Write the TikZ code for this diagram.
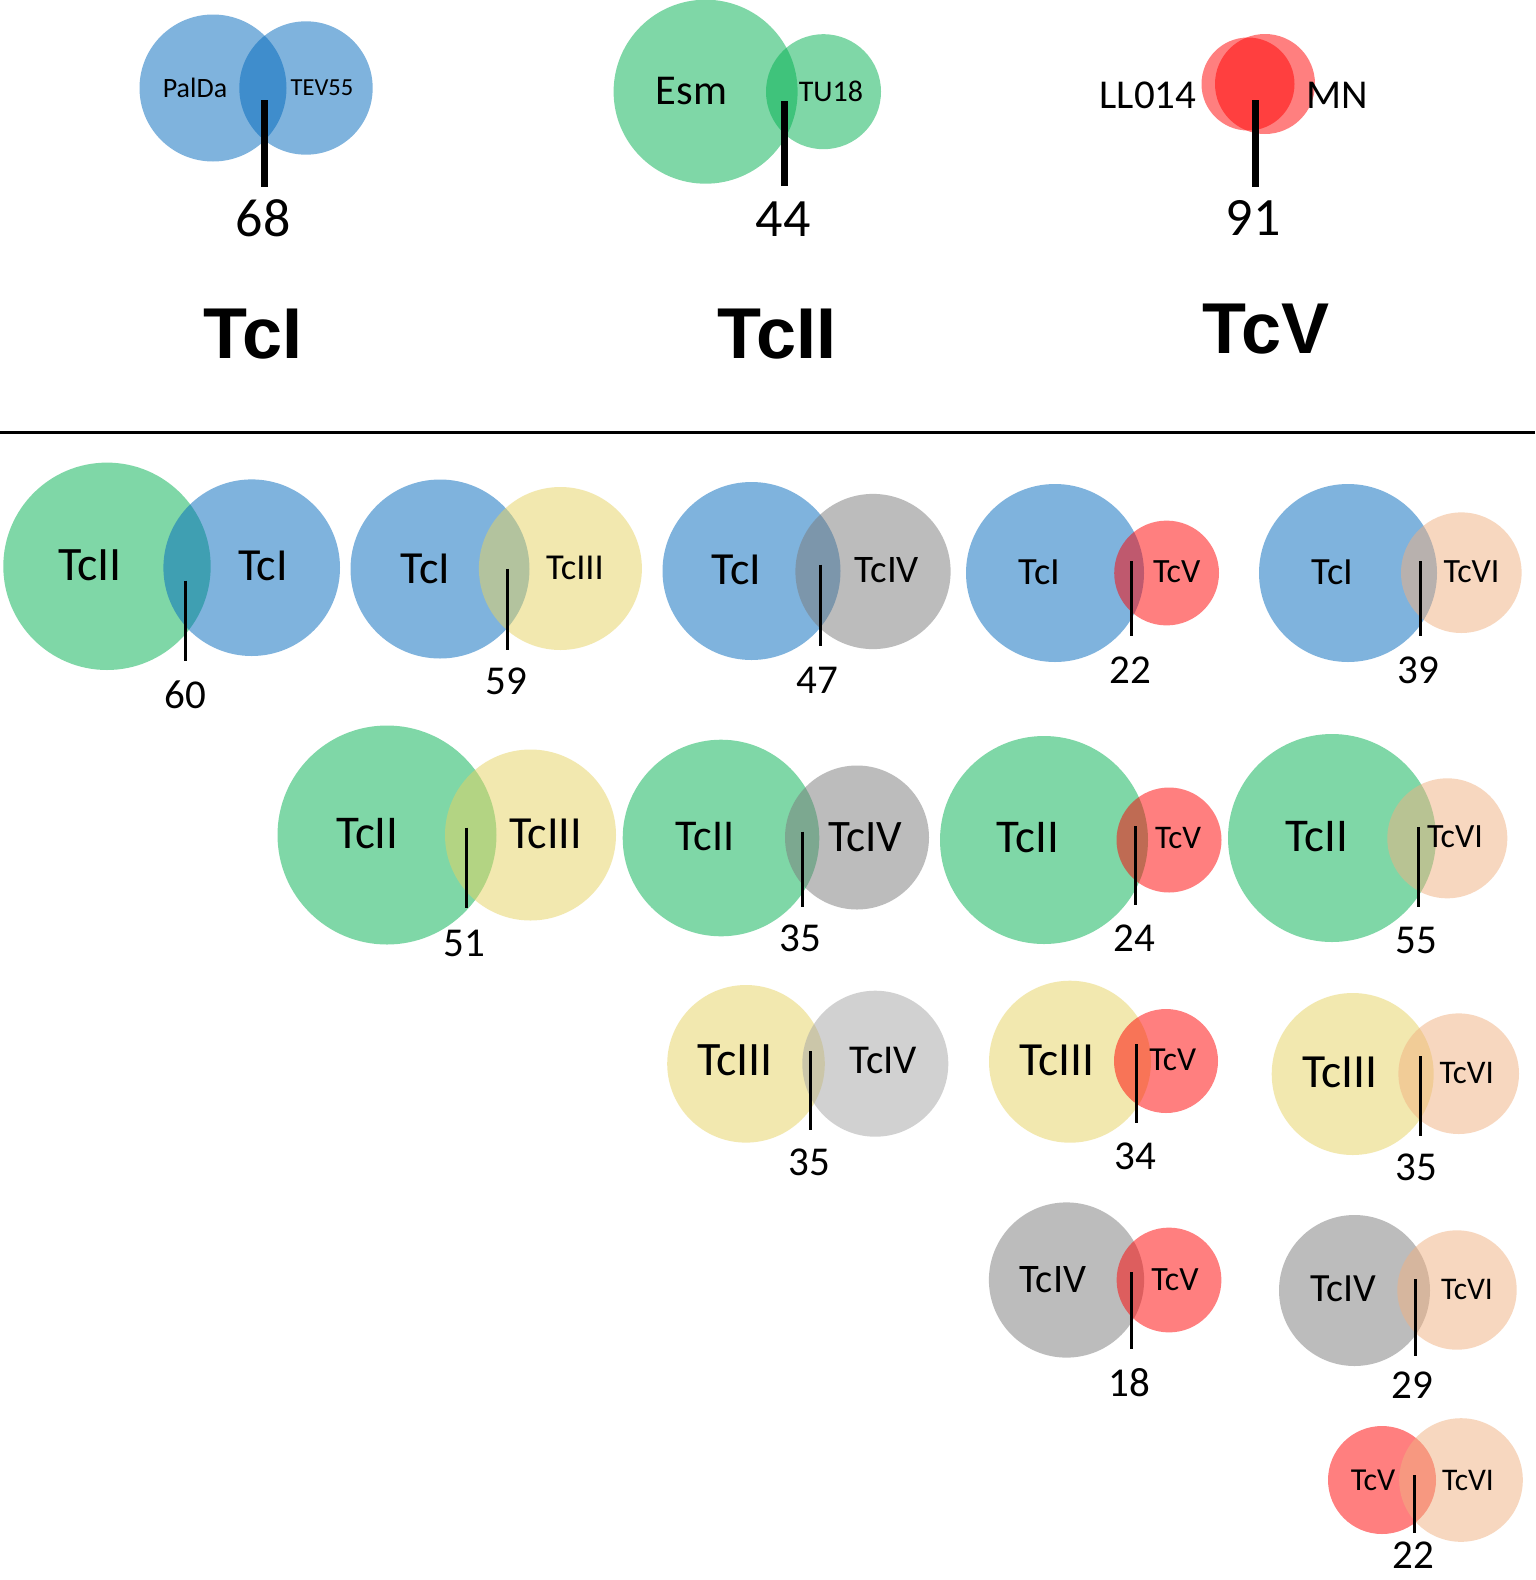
\documentclass[tikz,border=0pt]{standalone}
\usepackage{fontspec}
\newfontfamily\carl{Carlito}
\newfontfamily\hdrfont{Liberation Sans}
\definecolor{cBlue}{RGB}{1,105,189}
\definecolor{cGreen}{RGB}{1,177,81}
\definecolor{cYellow}{RGB}{231,211,97}
\definecolor{cGray}{RGB}{123,123,123}
\definecolor{cLGray}{RGB}{165,165,165}
\definecolor{cRed}{RGB}{255,1,1}
\definecolor{cPeach}{RGB}{241,177,129}
\tikzset{
  vset/.style={circle, inner sep=0pt, outer sep=0pt, draw=none, fill opacity=0.5, minimum size=2*#1},
  lab/.style={inner sep=0pt, outer sep=0pt, font={\carl\fontsize{#1}{#1}\selectfont}},
  hdr/.style={inner sep=0pt, outer sep=0pt, anchor=base, font={\hdrfont\bfseries\fontsize{72}{72}\selectfont}},
  ln/.style={line width=3pt},
  tln/.style={line width=7pt},
}
\begin{document}
\begin{tikzpicture}[x=1pt,y=-1pt]
\fill[white] (0,0) rectangle (1535,1580);
\useasboundingbox (0,0) rectangle (1535,1580);

% ---------- top: TcI ----------
\node[vset=73.5, fill=cBlue] (cPal) at (213,88) {};
\node[vset=66.7, fill=cBlue] (cTev) at (306,88) {};
\node[lab=28] (lPal) at (195,88) {PalDa};
\node[lab=24.5] (lTev) at (322,88) {TEV55};
\coordinate (tT1) at (264,100); \coordinate (bT1) at (264,187);
\draw[tln] (tT1) -- (bT1);
\node[lab=54] (nT1) at (263,218) {68};
\node[hdr] (hT1) at (253,358) {TcI};

% ---------- top: TcII ----------
\node[vset=92, fill=cGreen] (cEsm) at (705.6,91.7) {};
\node[vset=57.5, fill=cGreen] (cTU) at (823.5,91.7) {};
\node[lab=42.5] (lEsm) at (691.5,91) {Esm};
\node[lab=30] (lTU) at (831,91) {TU18};
\coordinate (tT2) at (784,101); \coordinate (bT2) at (784,186);
\draw[tln] (tT2) -- (bT2);
\node[lab=54] (nT2) at (783,219) {44};
\node[hdr] (hT2) at (777,358) {TcII};

% ---------- top: TcV ----------
\node[vset=46.5, fill=cRed] (cLL) at (1248,84) {};
\node[vset=50, fill=cRed] (cMN) at (1265,84) {};
\node[lab=41] (lLL) at (1148,95) {LL014};
\node[lab=41] (lMN) at (1337,95) {MN};
\coordinate (tT3) at (1255,100); \coordinate (bT3) at (1255,187);
\draw[tln] (tT3) -- (bT3);
\node[lab=54] (nT3) at (1253,218) {91};
\node[hdr] (hT3) at (1266,353) {TcV};

% ---------- separator ----------
\coordinate (rl) at (0,432.5); \coordinate (rr) at (1535,432.5);
\draw[line width=3.5pt] (rl) -- (rr);

% ---------- row 1 ----------
\node[vset=103.7, fill=cGreen] (c11a) at (107,566.3) {};
\node[vset=88.3, fill=cBlue] (c11b) at (251.7,567.7) {};
\node[lab=48] (l11a) at (90,565) {TcII};
\node[lab=46] (l11b) at (263,566) {TcI};
\coordinate (t11) at (185.7,580.7); \coordinate (b11) at (185.7,660.7);
\draw[ln] (t11) -- (b11);
\node[lab=41] (n11) at (185,695) {60};

\node[vset=89.5, fill=cBlue] (c12a) at (440,569) {};
\node[vset=81.5, fill=cYellow] (c12b) at (560.4,568.5) {};
\node[lab=46] (l12a) at (425.5,569) {TcI};
\node[lab=36.5] (l12b) at (575,568) {TcIII};
\coordinate (t12) at (507,568.8); \coordinate (b12) at (507,650);
\draw[ln] (t12) -- (b12);
\node[lab=41] (n12) at (506,681) {59};

\node[vset=89, fill=cBlue] (c13a) at (751.5,571) {};
\node[vset=77.6, fill=cGray] (c13b) at (873,571.5) {};
\node[lab=46] (l13a) at (736.5,570) {TcI};
\node[lab=39] (l13b) at (887,570) {TcIV};
\coordinate (t13) at (820,564.7); \coordinate (b13) at (820,645.8);
\draw[ln] (t13) -- (b13);
\node[lab=41] (n13) at (817,680) {47};

\node[vset=89, fill=cBlue] (c14a) at (1055,573) {};
\node[vset=52.4, fill=cRed] (c14b) at (1166.6,573) {};
\node[lab=38.5] (l14a) at (1039.6,572) {TcI};
\node[lab=34] (l14b) at (1176.7,572) {TcV};
\coordinate (t14) at (1131.7,561); \coordinate (b14) at (1131.7,636);
\draw[ln] (t14) -- (b14);
\node[lab=41] (n14) at (1130,670) {22};

\node[vset=89, fill=cBlue] (c15a) at (1348,573) {};
\node[vset=60.3, fill=cPeach] (c15b) at (1461.3,572.7) {};
\node[lab=38.5] (l15a) at (1332.5,572) {TcI};
\node[lab=34] (l15b) at (1471.6,572) {TcVI};
\coordinate (t15) at (1420,561); \coordinate (b15) at (1420,636);
\draw[ln] (t15) -- (b15);
\node[lab=41] (n15) at (1418,670) {39};

% ---------- row 2 ----------
\node[vset=109.5, fill=cGreen] (c21a) at (387,835) {};
\node[vset=85.5, fill=cYellow] (c21b) at (530.5,835) {};
\node[lab=47] (l21a) at (367.4,834) {TcII};
\node[lab=46] (l21b) at (545.6,834) {TcIII};
\coordinate (t21) at (466.6,827.5); \coordinate (b21) at (466.6,908);
\draw[ln] (t21) -- (b21);
\node[lab=41] (n21) at (464.4,943) {51};

\node[vset=98.3, fill=cGreen] (c22a) at (721,838) {};
\node[vset=72, fill=cGray] (c22b) at (857,837.5) {};
\node[lab=44] (l22a) at (705,837) {TcII};
\node[lab=45] (l22b) at (865,837) {TcIV};
\coordinate (t22) at (802.7,831.7); \coordinate (b22) at (802.7,906.7);
\draw[ln] (t22) -- (b22);
\node[lab=41] (n22) at (800,938) {35};

\node[vset=104, fill=cGreen] (c23a) at (1044,840) {};
\node[vset=52.5, fill=cRed] (c23b) at (1169,840) {};
\node[lab=47] (l23a) at (1027.7,838) {TcII};
\node[lab=33] (l23b) at (1178,838) {TcV};
\coordinate (t23) at (1135,826); \coordinate (b23) at (1135,905);
\draw[ln] (t23) -- (b23);
\node[lab=41] (n23) at (1134,938) {24};

\node[vset=104, fill=cGreen] (c24a) at (1332,838) {};
\node[vset=60, fill=cPeach] (c24b) at (1447.3,838.3) {};
\node[lab=47] (l24a) at (1316.7,836.7) {TcII};
\node[lab=34] (l24b) at (1455,836.7) {TcVI};
\coordinate (t24) at (1418.3,827.3); \coordinate (b24) at (1418.3,907.3);
\draw[ln] (t24) -- (b24);
\node[lab=41] (n24) at (1416.7,940) {55};

% ---------- row 3 ----------
\node[vset=78.8, fill=cYellow] (c31a) at (746,1063.8) {};
\node[vset=73, fill=cLGray] (c31b) at (875.3,1063.7) {};
\node[lab=48] (l31a) at (735,1060) {TcIII};
\node[lab=41] (l31b) at (883.3,1060) {TcIV};
\coordinate (t31) at (810,1051); \coordinate (b31) at (810,1130);
\draw[ln] (t31) -- (b31);
\node[lab=41] (n31) at (809.3,1162.7) {35};

\node[vset=81, fill=cYellow] (c32a) at (1070,1061.7) {};
\node[vset=52, fill=cRed] (c32b) at (1166,1061) {};
\node[lab=47.6] (l32a) at (1056.7,1060) {TcIII};
\node[lab=33.6] (l32b) at (1172.7,1060) {TcV};
\coordinate (t32) at (1136,1044); \coordinate (b32) at (1136,1123);
\draw[ln] (t32) -- (b32);
\node[lab=41] (n32) at (1135,1156.7) {34};

\node[vset=81, fill=cYellow] (c33a) at (1352.7,1074) {};
\node[vset=60.3, fill=cPeach] (c33b) at (1458.7,1073.7) {};
\node[lab=47.6] (l33a) at (1340,1072.7) {TcIII};
\node[lab=33] (l33b) at (1466.7,1072.7) {TcVI};
\coordinate (t33) at (1420,1056); \coordinate (b33) at (1420,1136);
\draw[ln] (t33) -- (b33);
\node[lab=41] (n33) at (1416.7,1167) {35};

% ---------- row 4 ----------
\node[vset=77.6, fill=cGray] (c41a) at (1066.5,1280) {};
\node[vset=52.4, fill=cRed] (c41b) at (1169,1280) {};
\node[lab=40.5] (l41a) at (1053,1280) {TcIV};
\node[lab=34] (l41b) at (1175,1280) {TcV};
\coordinate (t41) at (1131,1272); \coordinate (b41) at (1131,1349);
\draw[ln] (t41) -- (b41);
\node[lab=41] (n41) at (1129,1383) {18};

\node[vset=75.5, fill=cGray] (c42a) at (1354.5,1290.5) {};
\node[vset=59.7, fill=cPeach] (c42b) at (1457,1290) {};
\node[lab=40] (l42a) at (1343,1289) {TcIV};
\node[lab=31.5] (l42b) at (1467,1289) {TcVI};
\coordinate (t42) at (1415,1279); \coordinate (b42) at (1415,1356);
\draw[ln] (t42) -- (b42);
\node[lab=41] (n42) at (1412,1385) {29};

% ---------- row 5 ----------
\node[vset=54, fill=cRed] (c51a) at (1382,1480) {};
\node[vset=61.8, fill=cPeach] (c51b) at (1461,1480) {};
\node[lab=32] (l51a) at (1373,1480) {TcV};
\node[lab=31.5] (l51b) at (1468,1480) {TcVI};
\coordinate (t51) at (1414,1475); \coordinate (b51) at (1414,1533);
\draw[ln] (t51) -- (b51);
\node[lab=41] (n51) at (1413,1555) {22};
\end{tikzpicture}
\end{document}
